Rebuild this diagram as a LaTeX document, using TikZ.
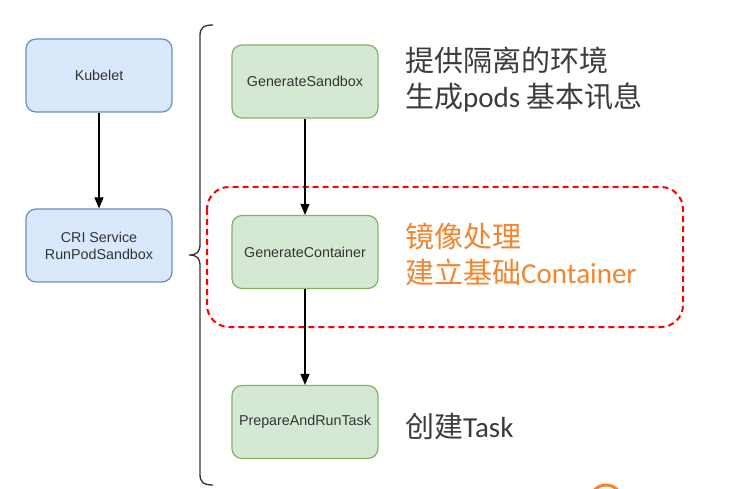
\documentclass[tikz,border=0pt]{standalone}
\usepackage{fontspec}
\setmainfont{Liberation Sans}
\newfontfamily\cjk{Noto Sans CJK SC}
\newfontfamily\lat{Carlito}
\usetikzlibrary{arrows.meta}
\definecolor{bluefill}{HTML}{DAE8FC}
\definecolor{bluedraw}{HTML}{6C8EBF}
\definecolor{greenfill}{HTML}{D5E8D4}
\definecolor{greendraw}{HTML}{82B366}
\definecolor{txtgray}{HTML}{333333}
\definecolor{notegray}{HTML}{3C3C3C}
\definecolor{orangetxt}{RGB}{242,133,48}
\begin{document}
\begin{tikzpicture}[x=1pt,y=-1pt,
  bluebox/.style={draw=bluedraw,fill=bluefill,line width=1.2pt,rounded corners=10pt,
    minimum width=146pt,minimum height=73pt,inner sep=0pt,align=center,
    font=\fontsize{14.3}{17}\selectfont,text=txtgray},
  greenbox/.style={draw=greendraw,fill=greenfill,line width=1.2pt,rounded corners=10pt,
    minimum width=146pt,minimum height=73pt,inner sep=0pt,align=center,
    font=\fontsize{14.3}{17}\selectfont,text=txtgray},
  flow/.style={-{Triangle[length=11pt,width=9pt]},line width=1.2pt,black},
  note/.style={anchor=west,align=left,inner sep=0pt,
    font=\cjk\fontsize{29}{36}\selectfont,text=notegray},
  brace/.style={line width=1.3pt,draw=txtgray}
]
\useasboundingbox (0,0) rectangle (734,489);
\fill[white] (0,0) rectangle (734,489);

% red dashed group
\draw[red,line width=2pt,dash pattern=on 6pt off 4pt,rounded corners=22pt]
  (207,187) rectangle (683,327);

\node[bluebox] (kube) at (99,75.5) {Kubelet};
\node[bluebox] (cri) at (99,245.5) {CRI Service\\RunPodSandbox};
\node[greenbox] (gs) at (305,81.5) {GenerateSandbox};
\node[greenbox] (gc) at (305,252) {GenerateContainer};
\node[greenbox] (prt) at (305,422) {PrepareAndRunTask};

\draw[flow] (kube) -- (cri);
\draw[flow] (gs) -- (gc);
\draw[flow] (gc) -- (prt);

% curly brace
\coordinate (btop) at (213,25);
\coordinate (btip) at (189,255);
\coordinate (bbot) at (213,485);
\draw[brace] (btop) .. controls (203,25) and (200,28) .. (200,36)
  -- (200,244) .. controls (200,252) and (197,255) .. (btip)
  .. controls (197,255) and (200,258) .. (200,266)
  -- (200,474) .. controls (200,482) and (203,485) .. (bbot);

\node[note] (n1) at (405,80) {提供隔离的环境\\生成{\lat pods} 基本讯息};
\node[note,text=orangetxt] (n2) at (405,254) {镜像处理\\建立基础{\lat Container}};
\node[note] (n3) at (405,426) {创建{\lat Task}};

% watermark fragment
\begin{scope}
\clip (0,0) rectangle (734,489);
\draw[orangetxt,line width=3pt] (606,501) circle (16);
\end{scope}
\end{tikzpicture}
\end{document}
